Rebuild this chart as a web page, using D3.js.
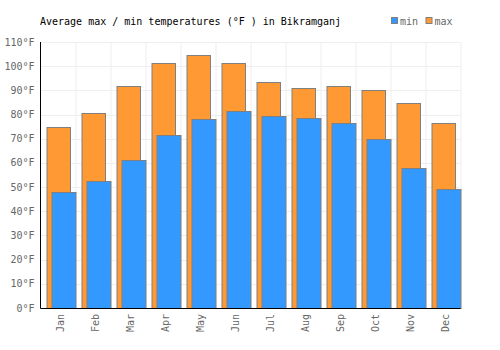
<!DOCTYPE html>
<html>
<head>
<meta charset="utf-8">
<script src="https://cdn.jsdelivr.net/npm/d3@7"></script>
<style>
  body { margin: 0; background: #fff; }
  svg text { font-family: "DejaVu Sans Mono", monospace; }
</style>
</head>
<body>
<div id="chart"></div>
<script>
// 月ラベル
const months = ['Jan', 'Feb', 'Mar', 'Apr', 'May', 'Jun', 'Jul', 'Aug', 'Sep', 'Oct', 'Nov', 'Dec'];
// 平均最高気温 (°F)
const maxTemps = [75, 80.8, 91.9, 101.4, 104.8, 101.5, 93.3, 91.1, 91.9, 90.2, 84.9, 76.6];
// 平均最低気温 (°F)
const minTemps = [47.8, 52.7, 61, 71.7, 78, 81.3, 79.2, 78.7, 76.6, 70, 58.1, 49.4];
// Y軸目盛
const yTicks = [0, 10, 20, 30, 40, 50, 60, 70, 80, 90, 100, 110];

const W = 500, H = 350;
const margin = { top: 42, right: 40, bottom: 42, left: 40.5 };
const width = 460.5 - margin.left;
const height = 308 - margin.top;

const svg = d3.select('#chart').append('svg')
    .attr('width', W)
    .attr('height', H);

const g = svg.append('g')
    .attr('transform', `translate(${margin.left}, ${margin.top})`);

const x = d3.scaleBand().domain(months).range([0, width]).padding(0);
const y = d3.scaleLinear().domain([0, 110]).range([height, 0]);

// グリッド
g.append('g').selectAll('line.h')
    .data(yTicks)
    .enter().append('line')
    .attr('x1', 0).attr('x2', width)
    .attr('y1', d => Math.round(y(d)) + 0.5).attr('y2', d => Math.round(y(d)) + 0.5)
    .attr('stroke', '#eee');

g.append('g').selectAll('line.v')
    .data(months.map((m, i) => i + 1))
    .enter().append('line')
    .attr('x1', i => Math.round(i * x.bandwidth()) + 0.5)
    .attr('x2', i => Math.round(i * x.bandwidth()) + 0.5)
    .attr('y1', 0).attr('y2', height)
    .attr('stroke', '#eee');

const bw = 23.5;

// 最高気温バー
g.append('g').selectAll('rect')
    .data(maxTemps)
    .enter().append('rect')
    .attr('x', (d, i) => Math.round(x(months[i]) + 5.5) + 0.5)
    .attr('y', d => Math.round(y(d)) + 0.5)
    .attr('width', bw)
    .attr('height', d => height - Math.round(y(d)))
    .attr('fill', '#ff9933')
    .attr('stroke', '#808080')
    .attr('stroke-width', 1);

// 最低気温バー
g.append('g').selectAll('rect')
    .data(minTemps)
    .enter().append('rect')
    .attr('x', (d, i) => Math.round(x(months[i]) + 10.5) + 0.5)
    .attr('y', d => Math.round(y(d)) + 0.5)
    .attr('width', bw + 0.5)
    .attr('height', d => height - Math.round(y(d)))
    .attr('fill', '#3399ff')
    .attr('stroke', '#808080')
    .attr('stroke-width', 1);

// 軸
g.append('line')
    .attr('x1', 0).attr('x2', 0).attr('y1', 0).attr('y2', height + 0.5)
    .attr('stroke', '#000');
g.append('line')
    .attr('x1', 0).attr('x2', width).attr('y1', height + 0.5).attr('y2', height + 0.5)
    .attr('stroke', '#000');

// Y軸ラベル
g.append('g').selectAll('text')
    .data(yTicks)
    .enter().append('text')
    .attr('x', -6)
    .attr('y', d => y(d))
    .attr('dy', '0.35em')
    .attr('text-anchor', 'end')
    .style('font-size', '10px')
    .attr('fill', '#666')
    .text(d => d + '°F');

// X軸ラベル（回転）
g.append('g').selectAll('text')
    .data(months)
    .enter().append('text')
    .attr('transform', d => `translate(${x(d) + x.bandwidth() / 2 + 5.5}, ${height + 6}) rotate(-90)`)
    .attr('text-anchor', 'end')
    .style('font-size', '10px')
    .attr('fill', '#666')
    .text(d => d);

// タイトル
svg.append('text')
    .attr('x', 40)
    .attr('y', 25)
    .style('font-size', '10px')
    .attr('fill', '#000')
    .text('Average max / min temperatures (°F ) in Bikramganj');

// 凡例
const legend = [
    { name: 'min', color: '#3399ff', x: 391 },
    { name: 'max', color: '#ff9933', x: 425.5 }
];
legend.forEach(l => {
    svg.append('rect')
        .attr('x', l.x + 0.5).attr('y', 17.5)
        .attr('width', 6).attr('height', 6)
        .attr('fill', l.color)
        .attr('stroke', '#808080');
    svg.append('text')
        .attr('x', l.x + 9)
        .attr('y', 25)
        .style('font-size', '10px')
        .attr('fill', '#666')
        .text(l.name);
});
</script>
</body>
</html>
